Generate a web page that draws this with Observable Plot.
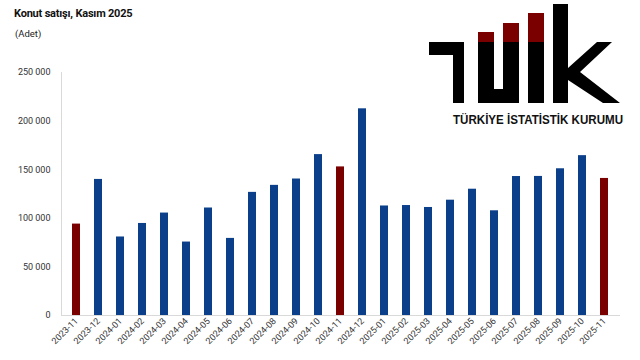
<!DOCTYPE html>
<html>
<head>
<meta charset="utf-8">
<script src="https://cdn.jsdelivr.net/npm/d3@7"></script>
<script src="https://cdn.jsdelivr.net/npm/@observablehq/plot@0.6"></script>
<style>
  html, body { margin: 0; padding: 0; background: #fff; }
  #wrap { position: relative; width: 640px; height: 360px; overflow: hidden; font-family: Roboto, "Liberation Sans", sans-serif; }
  #title { position: absolute; left: 14px; top: 7px; font-size: 11px; font-weight: bold; color: #111; letter-spacing: -0.2px; }
  #subtitle { position: absolute; left: 15px; top: 28px; font-size: 9.5px; color: #222; }
  #logo { position: absolute; left: 0; top: 0; }
  #chart { position: absolute; left: 0; top: 0; }
</style>
</head>
<body>
<div id="wrap">
  <div id="chart"></div>
  <div id="title">Konut satışı, Kasım 2025</div>
  <div id="subtitle">(Adet)</div>
  <svg id="logo" width="640" height="360"></svg>
</div>
<script>
const months = ["2023-11","2023-12","2024-01","2024-02","2024-03","2024-04","2024-05","2024-06","2024-07","2024-08","2024-09","2024-10","2024-11","2024-12","2025-01","2025-02","2025-03","2025-04","2025-05","2025-06","2025-07","2025-08","2025-09","2025-10","2025-11"];
const sales = [94048,139987,80778,94689,105394,75569,110588,79313,126670,133883,140421,165541,152874,212641,112669,113127,111131,118640,129932,107723,142977,143073,150953,164455,141000];
const novemberMonths = ["2023-11","2024-11","2025-11"];
const yTicks = [0,50000,100000,150000,200000,250000];
const seriesNames = ["Kasım","Diğer"];
const seriesColors = ["#7a0000","#0b3f8a"];

const data = months.map((m, i) => ({month: m, value: sales[i], group: novemberMonths.includes(m) ? "Kasım" : "Diğer"}));
const fmt = d => d3.format(",")(d).replace(/,/g, " ");

const chart = Plot.plot({
  width: 640,
  height: 360,
  marginTop: 72,
  marginBottom: 45,
  marginLeft: 61,
  marginRight: 20,
  style: {fontFamily: "Roboto, 'Liberation Sans', sans-serif", fontSize: "9px", color: "#333", background: "transparent"},
  x: {domain: months, paddingInner: 0.63, paddingOuter: 0.315, label: null},
  y: {domain: [0, 250000], ticks: yTicks, label: null},
  color: {domain: seriesNames, range: seriesColors},
  marks: [
    Plot.frame({anchor: "left", stroke: "#d9d9d9"}),
    Plot.barY(data, {x: "month", y: "value", fill: "group"}),
    Plot.ruleY([0], {stroke: "#d9d9d9"}),
    Plot.axisY({ticks: yTicks, tickSize: 0, tickPadding: 11, tickFormat: fmt, label: null}),
    Plot.axisX({tickSize: 0, tickPadding: 4, tickRotate: -45, label: null})
  ]
});
document.getElementById("chart").appendChild(chart);

// TÜİK logo (decoration)
const svg = d3.select("#logo");
const g = svg.append("g");
const black = "#000";
const red = "#7a0000";
g.append("path").attr("d", "M429,42 H464 V103 H453 V55 H429 Z").attr("fill", black);
g.append("path").attr("d", "M478,42 H494 V89 H503 V42 H519 V103 H478 Z").attr("fill", black);
g.append("rect").attr("x", 478).attr("y", 32).attr("width", 16).attr("height", 10).attr("fill", red);
g.append("rect").attr("x", 503).attr("y", 23).attr("width", 16).attr("height", 19).attr("fill", red);
g.append("rect").attr("x", 528).attr("y", 42).attr("width", 16).attr("height", 61).attr("fill", black);
g.append("rect").attr("x", 528).attr("y", 13).attr("width", 16).attr("height", 29).attr("fill", red);
g.append("rect").attr("x", 553).attr("y", 4).attr("width", 15).attr("height", 99).attr("fill", black);
g.append("path").attr("d", "M568,68 L597,42 H612 L580,72 L620,103 H603 L568,80 Z").attr("fill", black);
g.append("text").attr("x", 453).attr("y", 124).attr("textLength", 170).attr("lengthAdjust", "spacingAndGlyphs")
  .attr("font-family", "'Liberation Sans', Arial, sans-serif").attr("font-weight", "bold").attr("font-size", 12)
  .attr("fill", "#111").text("TÜRKİYE İSTATİSTİK KURUMU");
</script>
</body>
</html>
